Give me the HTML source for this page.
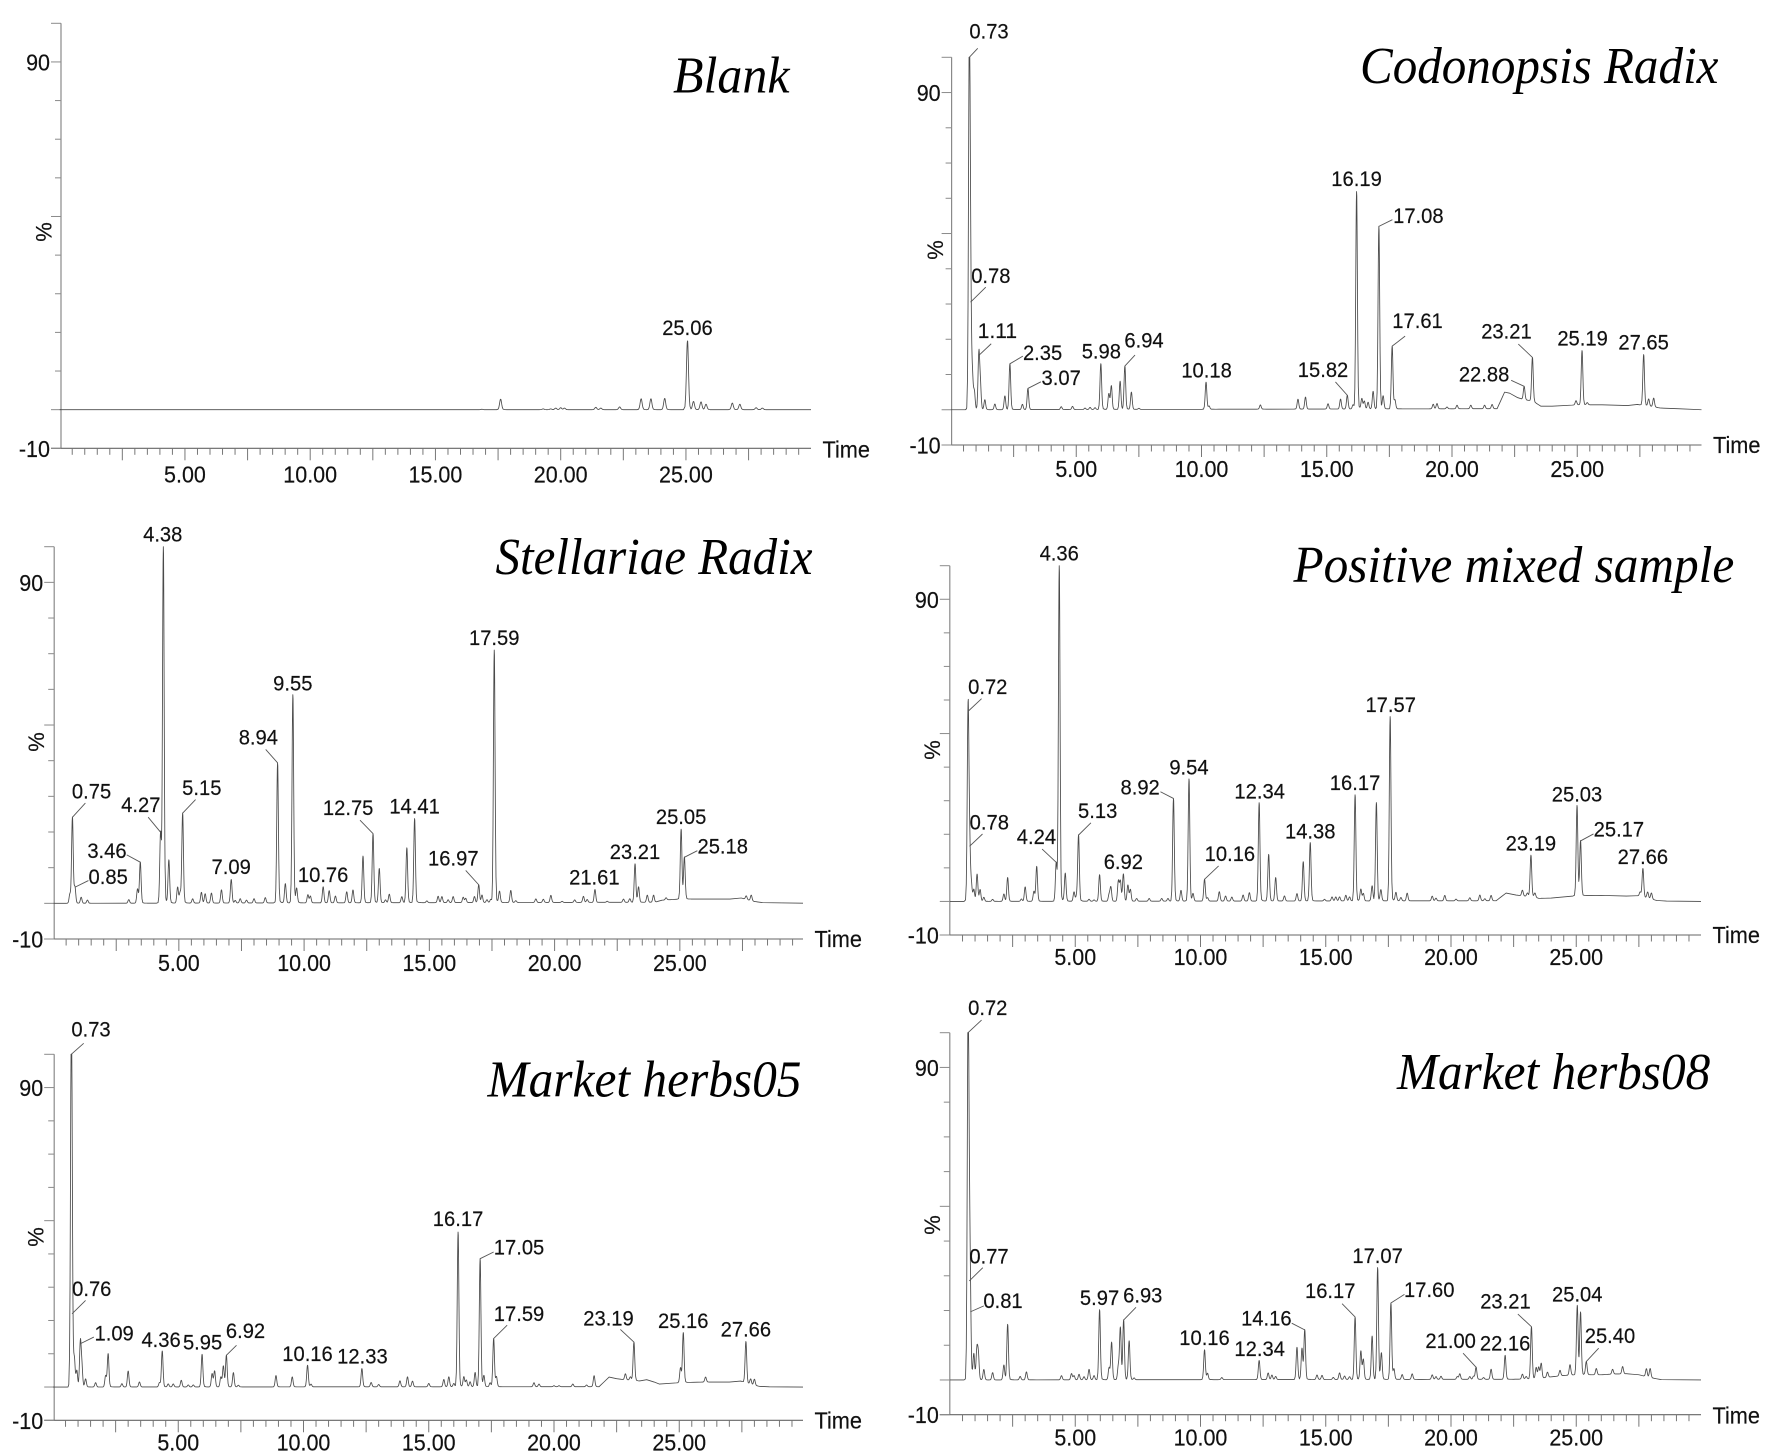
<!DOCTYPE html>
<html lang="en">
<head>
<meta charset="utf-8">
<title>Chromatograms</title>
<style>
html,body{margin:0;padding:0;background:#fff;}
svg{display:block;}
text{font-family:"Liberation Sans",Arial,sans-serif;fill:#111;stroke:#111;stroke-width:0.18px;}
.title{font-family:"Liberation Serif","Times New Roman",serif;font-style:italic;font-size:52px;fill:#000;stroke:none;}
</style>
</head>
<body>
<svg id="figure" xmlns="http://www.w3.org/2000/svg" width="1772" height="1455" viewBox="0 0 1772 1455"></svg>
<script>
/* ---------- shared axis data ---------- */
const yTickValues = [-10,0,10,20,30,40,50,60,70,80,90,100];
const yTickLabels = [-10,90];
const yLongTicks = [-10,0,50,90];
const xTickLabels = [5,10,15,20,25];

/* ---------- Blank ---------- */
const blankTimes = [16.85,17.6,19.3,19.6,19.8,20,20.15,21.4,21.6,22.35,23.21,23.6,24.15,25.06,25.3,25.6,25.8,26.85,27.15,27.8,28.05];
const blankHeights = [0.1,2.7,0.2,0.2,0.4,0.5,0.4,0.6,0.4,0.7,2.8,2.8,2.9,17.8,2.1,2,1.4,1.7,1.4,0.5,0.4];
const blankDriftTimes = [0,30];
const blankDriftValues = [0,0];
const blankLabels = ["25.06"];

/* ---------- Codonopsis Radix ---------- */
const codonopsisTimes = [0.73,0.78,0.85,0.93,1.11,1.17,1.35,1.75,2.15,2.35,2.85,3.07,4.4,4.85,5.35,5.55,5.75,5.98,6.3,6.4,6.75,6.94,7.2,7.5,10.18,10.3,12.35,13.85,14.15,15.05,15.55,15.82,16.05,16.19,16.4,16.5,16.65,16.85,17.08,17.25,17.61,17.72,19.25,19.4,19.8,20.2,20.75,21.3,21.6,22.88,23.21,24.95,25.19,25.4,27.65,27.85,28.05];
const codonopsisHeights = [100,30.5,9.3,5,15.4,7,2.8,1.6,3.9,13,1.5,6,0.8,0.9,0.4,0.6,0.5,13,4.5,6.7,8,12.3,4.9,0.3,7.7,0.9,1.2,2.8,3.4,1.5,2.8,3.9,1.2,61.7,2.9,2.2,1.9,5,51.8,3.6,17.8,2.5,1.3,1.5,0.5,1,1,1,1.2,3.8,12.4,1.2,15.4,0.6,14.4,2,2.5];
const codonopsisDriftTimes = [0,21.8,22.1,22.3,22.6,22.9,23.2,23.55,24,25,26,27,27.4,27.9,28.3,29,30];
const codonopsisDriftValues = [0,0.3,5,4.7,3.5,2.8,2.5,1,1,1.4,1.4,1.2,1.5,1,0.5,0.3,0];
const codonopsisLabels = ["0.73","0.78","1.11","2.35","3.07","5.98","6.94","10.18","15.82","16.19","17.08","17.61","22.88","23.21","25.19","27.65"];

/* ---------- Stellariae Radix ---------- */
const stellariaeTimes = [0.65,0.75,0.85,1.1,1.35,3,3.35,3.46,4.27,4.38,4.6,4.95,5.05,5.15,5.55,5.9,6.05,6.3,6.7,7.09,7.25,7.45,7.7,8,8.45,8.94,9.25,9.55,9.7,10.15,10.25,10.76,11,11.25,11.7,11.95,12.35,12.75,13,13.25,13.4,13.9,14.1,14.41,14.9,15.35,15.5,15.75,15.95,16.35,16.45,16.8,16.97,17.1,17.3,17.45,17.59,17.8,18.25,18.45,19.25,19.55,19.85,20.3,20.8,21.15,21.3,21.61,22.1,22.75,23,23.21,23.35,23.7,23.95,24.45,25.05,25.18,27.65,27.85];
const stellariaeHeights = [2.6,24.1,4.5,1.7,0.9,1,4,11.5,19.9,100,12,4.5,3,25.2,1.2,3,2.6,2.8,3.7,6.6,0.7,1.2,0.8,1.2,1.5,39.3,5.4,58.4,4,2.3,1.9,4.5,3.4,1.9,3.1,3.6,13.1,19.4,9.6,0.8,2.4,1.7,15.4,23.6,0.5,1.8,1.7,0.8,1.7,1.5,1.2,1.7,5,2.1,0.8,0.9,70.8,3.1,3.4,0.5,1,0.9,2,0.3,0.7,1.7,0.8,3.6,0.3,0.9,1,10.8,4.3,2,2,0.6,19.6,11.7,1,1.6];
const stellariaeDriftTimes = [0,24,24.3,25,27,27.45,27.9,28.3,30];
const stellariaeDriftValues = [0,0.3,0.9,1.2,1.2,1.5,0.6,0.2,0.05];
const stellariaeLabels = ["0.75","0.85","3.46","4.27","4.38","5.15","7.09","8.94","9.55","10.76","12.75","14.41","16.97","17.59","21.61","23.21","25.05","25.18"];

/* ---------- Positive mixed sample ---------- */
const positiveTimes = [0.72,0.78,0.85,0.95,1.08,1.2,1.35,1.7,2.15,2.3,2.85,3,3.35,3.46,4.24,4.36,4.6,4.95,5.05,5.13,5.55,5.75,5.97,6.35,6.42,6.72,6.8,6.92,7.1,7.2,7.45,7.95,8.45,8.7,8.92,9.22,9.54,9.7,10.16,10.28,10.75,11,11.25,11.7,11.95,12.34,12.72,13,13.35,13.85,14.1,14.38,14.95,15.25,15.4,15.55,15.8,15.95,16.17,16.4,16.5,16.85,17.02,17.2,17.57,17.8,18,18.25,19.25,19.4,19.75,20.2,20.75,21.15,21.35,21.6,22.85,23.05,23.19,23.35,25.03,25.17,27.55,27.66,27.85,28];
const positiveHeights = [56.6,16.4,5,3.5,8.1,3.5,1.2,0.6,2.2,7.1,0.7,4.3,3,10.4,11.6,100,8.3,2.8,1.5,19.7,0.6,0.4,7.9,2,4.2,6,6,8.1,4.8,3.5,0.8,0.8,0.8,0.8,30.6,3.2,36.4,2.2,6.5,1,2.8,1.5,1.2,1.8,2.5,29.3,13.9,7,1.5,2.2,11.7,17.4,0.5,1.2,1.2,1.2,1.7,1.2,31.6,3.5,2.2,4.5,29.3,3.3,54.9,2.5,1,2.3,1.4,0.8,1.6,0.5,0.9,1.7,0.6,1.6,1.7,1,12.3,1.2,26.9,16.3,1.3,8.5,1.8,1.8];
const positiveDriftTimes = [0,21.8,22.2,22.6,22.9,23.3,23.5,24,25,26,27,27.45,27.9,28.2,28.6,30];
const positiveDriftValues = [0,0.2,2.5,1.9,1.6,1.4,0.9,1,1.7,1.8,1.6,1.7,0.9,0.3,0.1,0];
const positiveLabels = ["0.72","0.78","4.24","4.36","5.13","6.92","8.92","9.54","10.16","12.34","14.38","16.17","17.57","23.19","25.03","25.17","27.66"];

/* ---------- Market herbs05 ---------- */
const herbs05Times = [0.73,0.76,0.85,0.95,1.09,1.15,1.3,1.7,2.1,2.2,2.75,3,3.45,4.25,4.36,4.6,4.8,5.12,5.4,5.6,5.95,6.35,6.45,6.7,6.8,6.92,7.2,7.4,8.9,9.55,10.16,10.3,12.33,12.7,13,13.85,14.15,14.35,15,15.6,15.8,16,16.17,16.4,16.5,16.65,16.85,17.05,17.2,17.45,17.59,17.7,19.2,19.4,20,20.2,20.75,21.3,21.6,22.85,23.05,23.19,25.05,25.16,26.05,27.66,27.85,28];
const herbs05Heights = [100,22,8.2,4.8,13,6.2,2.4,1.3,3.4,10,1,4.8,1.5,1.3,10.8,0.9,0.9,2,0.6,0.6,9.8,4,4.8,3,6.3,9.5,4.3,0.5,3.4,3,6.5,0.8,5.5,1.3,0.7,1.8,3,1.7,1,2.2,3,1,46.5,3,2,1.5,4.3,38.5,3.3,1.2,14.5,3,1.2,0.8,0.3,0.3,0.8,0.5,3.3,1.8,1,11.5,4.5,15,1.5,12.4,1.6,1.8];
const herbs05DriftTimes = [0,21.8,22.2,22.5,22.8,23.2,23.4,23.7,24,24.2,25,26,27,27.45,27.9,28.2,28.6,30];
const herbs05DriftValues = [0,0.1,3,2.5,2.2,2,1.8,2.2,1.5,0.9,1.3,1.5,1.5,1.8,0.7,0.2,0.05,0];
const herbs05Labels = ["0.73","0.76","1.09","4.36","5.95","6.92","10.16","12.33","16.17","17.05","17.59","23.19","25.16","27.66"];

/* ---------- Market herbs08 ---------- */
const herbs08Times = [0.72,0.77,0.81,0.95,1.07,1.13,1.35,1.7,2.15,2.3,2.8,3.05,4.45,4.85,4.95,5.15,5.35,5.55,5.75,5.97,6.35,6.45,6.72,6.8,6.93,7.15,7.35,10.16,10.28,10.85,12.34,12.7,12.85,13,13.85,14.05,14.16,14.65,14.85,15.3,15.55,15.75,15.95,16.17,16.4,16.5,16.85,17.07,17.22,17.6,17.72,18.05,18.45,19.25,19.4,19.6,20.25,20.35,20.75,20.9,21,21.3,21.6,22.16,22.85,23,23.21,23.4,23.5,23.6,23.85,24.35,24.75,25.04,25.17,25.4,25.8,26.45,26.85,27.8,27.95];
const herbs08Heights = [100,28.5,19.6,7.4,8.2,7.2,3,2.1,4.3,16,1,2.3,1.2,1.8,1.2,1.6,0.9,3,1.2,20.2,3.5,10.8,4,15,17.2,11.2,0.5,8.6,1.8,0.6,5.5,1.9,1.3,0.9,9.3,9,14.3,1.3,1.2,0.6,1.9,1,0.8,18,8.2,5.8,12.5,32.2,7.6,22,3,1.4,1.6,1.3,0.8,0.9,0.8,1.6,0.8,0.9,3.5,0.5,2.9,6.9,1.4,0.7,15,3.2,3.3,4.3,1.5,1.6,3,20,18,3.8,1.8,1.4,2.1,2.3,2.6];
const herbs08DriftTimes = [0,22.5,23.5,24,24.5,25,26,26.5,27,27.5,28,28.4,30];
const herbs08DriftValues = [0,0.2,0.4,0.9,1.3,1.5,1.5,1.7,1.8,1.5,0.6,0.1,0];
const herbs08Labels = ["0.72","0.77","0.81","5.97","6.93","10.16","12.34","14.16","16.17","17.07","17.60","21.00","22.16","23.21","25.04","25.40"];

/* ---------- layout only (no data values) ---------- */
/* label layout: [label dx, baseline dy, leader dx, leader dy] measured at 1.772 / 3 px units from the peak apex */
const blankLayout = {"25.06":[0,-17]};
const codonopsisLayout = {"0.73":[35,-57,15,-27],"0.78":[36,-57,27,-45],"1.11":[33,-53,22,-35],"2.35":[58,-12,23,-23],"3.07":[59,-10,23,-20],"5.98":[1,-15],"6.94":[34,-55,18,-33],"10.18":[1,-14],"15.82":[-43,-54,-21,-40],"16.19":[0,-17],"17.08":[70,-10,24,-20],"17.61":[45,-55,23,-30],"22.88":[-71,-15,-23,-18],"23.21":[-46,-57,-25,-40],"25.19":[1,-15],"27.65":[0,-15]};
const stellariaeLayout = {"0.75":[34,-57,23,-43],"0.85":[59,-10,24,-20],"3.46":[-59,-13,-24,-22],"4.27":[-35,-60,-22,-45],"4.38":[-1,-16],"5.15":[34,-55,23,-41],"7.09":[0,-17],"8.94":[-34,-55,-21,-40],"9.55":[0,-13],"10.76":[0,-15],"12.75":[-44,-55,-23,-40],"14.41":[0,-15],"16.97":[-45,-57,-23,-43],"17.59":[0,-15],"21.61":[-1,-15],"23.21":[0,-15],"25.05":[0,-15],"25.18":[68,-12,23,-20]};
const positiveLayout = {"0.72":[35,-52,24,-38],"0.78":[35,-50,23,-37],"4.24":[-35,-55,-25,-40],"4.36":[0,-16],"5.13":[34,-52,22,-37],"6.92":[0,-15],"8.92":[-59,-12,-23,-20],"9.54":[0,-13],"10.16":[45,-55,25,-40],"12.34":[1,-13],"14.38":[0,-12],"16.17":[0,-14],"17.57":[1,-13],"23.19":[0,-14],"25.03":[0,-12],"25.17":[68,-13,23,-21],"27.66":[0,-14]};
const herbs05Layout = {"0.73":[35,-53,22,-33],"0.76":[35,-53,24,-40],"1.09":[60,-10,24,-20],"4.36":[-2,-12],"5.95":[1,-15],"6.92":[34,-52,18,-30],"10.16":[0,-13],"12.33":[1,-15],"16.17":[0,-18],"17.05":[69,-12,24,-20],"17.59":[45,-53,24,-40],"23.19":[-45,-50,-24,-38],"25.16":[0,-14],"27.66":[0,-15]};
const herbs08Layout = {"0.72":[35,-53,24,-38],"0.77":[35,-53,24,-40],"0.81":[58,-11,24,-18],"5.97":[0,-14],"6.93":[34,-53,22,-38],"10.16":[0,-14],"12.34":[1,-13],"14.16":[-68,-13,-23,-20],"16.17":[-44,-57,-23,-40],"17.07":[0,-14],"17.60":[68,-18,24,-26],"21.00":[-45,-57,-23,-42],"22.16":[0,-15],"23.21":[-46,-55,-24,-38],"25.04":[0,-12],"25.40":[42,-55,22,-40]};

const panels = [
 {key:"blank",title:"Blank",times:blankTimes,heights:blankHeights,driftT:blankDriftTimes,driftV:blankDriftValues,labels:blankLabels,layout:blankLayout,sigma:0.04,
  axisX:61,x0:59.7,xEnd:811,yTop:23.3,yBot:448.3,tickDy:34,timeDy:9,pctX:44,pctY:232,
  titleX:673,titleY:92.7,titleW:116.5},
 {key:"codonopsis",title:"Codonopsis Radix",times:codonopsisTimes,heights:codonopsisHeights,driftT:codonopsisDriftTimes,driftV:codonopsisDriftValues,labels:codonopsisLabels,layout:codonopsisLayout,sigma:0.032,
  axisX:951.6,x0:951,xEnd:1701.5,yTop:57.3,yBot:445,tickDy:32,timeDy:8,pctX:935.7,pctY:250,
  titleX:1360,titleY:83,titleW:358.4},
 {key:"stellariae",title:"Stellariae Radix",times:stellariaeTimes,heights:stellariaeHeights,driftT:stellariaeDriftTimes,driftV:stellariaeDriftValues,labels:stellariaeLabels,layout:stellariaeLayout,sigma:0.032,
  axisX:54.2,x0:53.6,xEnd:803,yTop:546.7,yBot:939,tickDy:32,timeDy:8,pctX:36.7,pctY:742,
  titleX:495.5,titleY:574,titleW:317},
 {key:"positive",title:"Positive mixed sample",times:positiveTimes,heights:positiveHeights,driftT:positiveDriftTimes,driftV:positiveDriftValues,labels:positiveLabels,layout:positiveLayout,sigma:0.032,
  axisX:949.8,x0:950,xEnd:1701,yTop:565.7,yBot:935,tickDy:30,timeDy:8,pctX:932.3,pctY:750,
  titleX:1293.5,titleY:582,titleW:440.7},
 {key:"herbs05",title:"Market herbs05",times:herbs05Times,heights:herbs05Heights,driftT:herbs05DriftTimes,driftV:herbs05DriftValues,labels:herbs05Labels,layout:herbs05Layout,sigma:0.032,
  axisX:54.2,x0:53,xEnd:803,yTop:1054.3,yBot:1420.3,tickDy:30,timeDy:8,pctX:36,pctY:1237,
  titleX:487.5,titleY:1096.7,titleW:314},
 {key:"herbs08",title:"Market herbs08",times:herbs08Times,heights:herbs08Heights,driftT:herbs08DriftTimes,driftV:herbs08DriftValues,labels:herbs08Labels,layout:herbs08Layout,sigma:0.032,
  axisX:949.8,x0:950,xEnd:1701,yTop:1032.7,yBot:1414.7,tickDy:31,timeDy:8.6,pctX:932.3,pctY:1225,
  titleX:1397,titleY:1089,titleW:313.2}
];

const NS = "http://www.w3.org/2000/svg";
const svg = document.getElementById("figure");
const MIN_PX = 25.05;
const Z_X = 1.772;
const AXIS_COLOR = "#8a8a8a";
const SAMPLE_OFFSETS = [-0.16,-0.1,-0.07,-0.05,-0.035,-0.02,-0.01,0,0.01,0.02,0.035,0.05,0.07,0.1,0.16,0.25,0.4];

function make(tag, attrs, parent){
  const el = document.createElementNS(NS, tag);
  for (const k in attrs) el.setAttribute(k, attrs[k]);
  parent.appendChild(el);
  return el;
}
function textWidth(str, em){
  let w = 0;
  for (const ch of str) w += ch === "." ? 0.278 : ch === "-" ? 0.333 : 0.556;
  return (w*em).toFixed(1);
}
function driftAt(p, t){
  const T = p.driftT, V = p.driftV;
  if (t <= T[0]) return V[0];
  for (let i = 1; i < T.length; i++){
    if (t <= T[i]) return V[i-1] + (V[i]-V[i-1])*(t-T[i-1])/(T[i]-T[i-1]);
  }
  return V[V.length-1];
}
function signalAt(p, t){
  let v = driftAt(p, t);
  for (let i = 0; i < p.times.length; i++){
    const d = t - p.times[i];
    if (Math.abs(d) > 1) continue;
    const h = p.heights[i];
    v += h*Math.exp(-(d*d)/(2*p.sigma*p.sigma));
    if (d > 0) v += 0.03*h*Math.exp(-d/0.07);
  }
  return Math.min(v, 100);
}

panels.forEach(function(p){
  const xs = function(t){ return p.x0 + t*MIN_PX; };
  const ys = function(v){ return p.yBot - (v+10)*(p.yBot-p.yTop)/110; };

  const g = make("g", {}, svg);
  
  
  g.setAttribute('id', 'panel-'+p.key);

  /* axes */
  const yAxis = make("line", {x1:p.axisX,x2:p.axisX,y1:ys(100),y2:ys(-10),stroke:AXIS_COLOR,"stroke-width":1.2}, g);
  
  
  const xAxis = make("line", {x1:p.axisX-10,x2:p.xEnd,y1:ys(-10),y2:ys(-10),stroke:"#666","stroke-width":1.1}, g);
  
  

  yTickValues.forEach(function(v){
    const long = yLongTicks.indexOf(v) >= 0 || v === 100;
    const tick = make("line", {x1:p.axisX-(long?10:6),x2:p.axisX,y1:ys(v),y2:ys(v),stroke:AXIS_COLOR,"stroke-width":1}, g);
    
    
  });
  yTickLabels.forEach(function(v){
    const label = String(v);
    const tx = make("text", {x:p.axisX-11,y:ys(v)+8.5,"text-anchor":"end","font-size":23,textLength:textWidth(label,21.5),lengthAdjust:"spacingAndGlyphs"}, g);
    tx.textContent = label;
    
    
  });
  for (let k = 1; k < 60; k++){
    const t = k*0.5;
    const major = k % 5 === 0;
    const tick = make("line", {x1:xs(t),x2:xs(t),y1:ys(-10),y2:ys(-10)+(major?12:6.5),stroke:"#777","stroke-width":1}, g);
    
    
  }
  xTickLabels.forEach(function(t){
    const label = t.toFixed(2);
    const tx = make("text", {x:xs(t),y:ys(-10)+p.tickDy,"text-anchor":"middle","font-size":23,textLength:textWidth(label,21.5),lengthAdjust:"spacingAndGlyphs"}, g);
    tx.textContent = label;
    
    
  });
  const timeT = make("text", {x:p.xEnd+11.5,y:ys(-10)+p.timeDy,"font-size":23,textLength:47.5,lengthAdjust:"spacingAndGlyphs"}, g);
  timeT.textContent = "Time";
  
  
  const pct = make("text", {x:p.pctX,y:p.pctY,"text-anchor":"middle","dominant-baseline":"central","font-size":22,transform:"rotate(-90 "+p.pctX+" "+p.pctY+")"}, g);
  pct.textContent = "%";
  
  

  /* trace: samples around every peak and every drift knot */
  const sampleSet = new Set([0,30]);
  p.driftT.forEach(function(t){ sampleSet.add(t); });
  p.times.forEach(function(c){
    SAMPLE_OFFSETS.forEach(function(o){
      const s = +(c+o).toFixed(3);
      if (s >= 0 && s <= 30) sampleSet.add(s);
    });
  });
  const samples = Array.from(sampleSet).sort(function(a,b){ return a-b; });
  let d = "";
  samples.forEach(function(t,i){
    d += (i ? "L" : "M") + Math.min(xs(t),p.xEnd).toFixed(2) + " " + ys(signalAt(p,t)).toFixed(2);
  });
  const trace = make("path", {d:d,fill:"none",stroke:"#4a4a4a","stroke-width":0.85,"stroke-linejoin":"round"}, g);
  
  

  /* peak annotations */
  p.labels.forEach(function(lab){
    const tVal = parseFloat(lab);
    let idx = 0;
    p.times.forEach(function(t,i){ if (Math.abs(t-tVal) < Math.abs(p.times[idx]-tVal)) idx = i; });
    const t = p.times[idx];
    const ax = xs(t);
    const ay = ys(Math.min(driftAt(p,t)+p.heights[idx],100));
    const o = p.layout[lab] || [0,-14];
    const tx = make("text", {x:ax+o[0]/Z_X,y:ay+o[1]/3,"text-anchor":"middle","font-size":21.5,textLength:textWidth(lab,20.2),lengthAdjust:"spacingAndGlyphs"}, g);
    tx.textContent = lab;
    
    
    if (o.length > 2){
      const leader = make("line", {x1:ax,y1:ay,x2:ax+o[2]/Z_X,y2:ay+o[3]/3,stroke:"#555","stroke-width":0.9}, g);
      
      
    }
  });

  /* title */
  const title = make("text", {"class":"title",x:p.titleX,y:p.titleY,textLength:p.titleW,lengthAdjust:"spacingAndGlyphs"}, g);
  title.textContent = p.title;
  
  
});
</script>
</body>
</html>
